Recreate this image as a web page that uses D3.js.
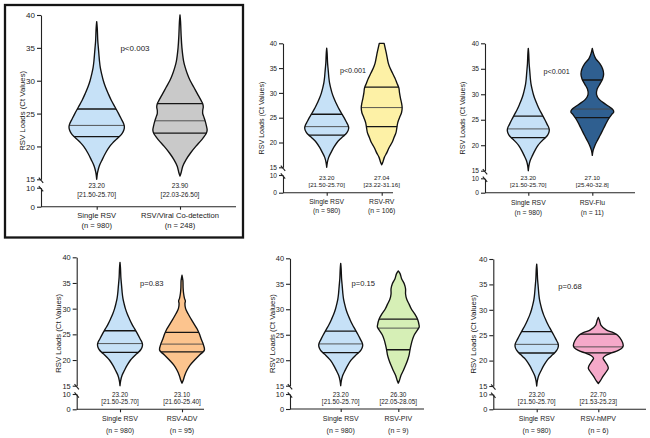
<!DOCTYPE html>
<html>
<head>
<meta charset="utf-8">
<script src="https://cdn.jsdelivr.net/npm/d3@7"></script>
<style>
  body { margin: 0; background: #fff; }
  svg text { font-family: "Liberation Sans", Arial, sans-serif; fill: #1a1a1a; }
</style>
</head>
<body>
<svg id="chart" width="650" height="438"></svg>
<script>
// ---- Data ----
// violin outlines: [Ct value, relative half width] (1 = widest part of Single RSV)
const singleRsvShape = [[39,0],[38,0.02],[36,0.04],[35,0.06],[34,0.08],[33,0.1],[32,0.13],[31,0.18],[30,0.24],[29,0.32],[28,0.42],[27,0.53],[26,0.66],[25,0.79],[24,0.91],[23.5,0.97],[23,1],[22.5,0.98],[22,0.92],[21.5,0.82],[21,0.69],[20.5,0.57],[20,0.47],[19,0.32],[18,0.2],[17,0.09],[16,0.03],[15,0]];
const coDetectShape = [[40,0],[39,0.02],[37,0.04],[35,0.07],[33,0.13],[32,0.19],[31,0.27],[30,0.37],[29,0.5],[28,0.63],[27,0.76],[26.5,0.82],[26,0.84],[25.5,0.82],[25,0.82],[24.5,0.86],[24,0.9],[23,0.96],[22.5,0.98],[22,0.95],[21,0.78],[20,0.57],[19,0.38],[18,0.22],[17,0.1],[16,0.04],[15.5,0]];
const rvShape = [[40,0.11],[38,0.21],[36,0.3],[35,0.38],[34,0.49],[33,0.6],[32,0.69],[31,0.78],[30,0.81],[29,0.85],[28,0.9],[27,0.93],[26,0.9],[25,0.81],[24,0.73],[23,0.69],[22,0.65],[21,0.56],[20,0.47],[19,0.34],[18,0.24],[17,0.12],[16,0.05],[15.5,0]];
const fluShape = [[39,0],[38,0.06],[37,0.16],[36,0.36],[35,0.49],[34,0.54],[33,0.49],[32,0.36],[31,0.23],[30,0.2],[29,0.33],[28,0.65],[27,0.98],[26.5,1.02],[26,0.92],[25,0.75],[24,0.62],[23,0.5],[22,0.38],[21,0.25],[20,0.13],[19,0.04],[18,0]];
const advShape = [[36.5,0],[35.5,0.04],[34,0.05],[33,0.07],[32,0.11],[31.5,0.15],[31,0.13],[30,0.16],[29,0.27],[28,0.4],[27,0.54],[26,0.68],[25,0.78],[24,0.86],[23,0.95],[22,1.0],[21.5,0.92],[21,0.78],[20,0.56],[19,0.36],[18,0.22],[17,0.12],[16,0.05],[15.5,0]];
const pivShape = [[37.5,0],[37,0.08],[36,0.15],[35,0.27],[34,0.33],[33,0.33],[32,0.38],[31,0.49],[30,0.6],[29,0.76],[28,0.88],[27,0.94],[26.5,0.95],[26,0.88],[25,0.73],[24,0.64],[23,0.58],[22,0.53],[21,0.49],[20,0.42],[19,0.33],[18,0.23],[17,0.12],[16,0.05],[15.5,0]];
const hmpvShape = [[28.5,0],[28,0.05],[27,0.12],[26,0.38],[25.5,0.69],[25,0.89],[24,1.07],[23,1.15],[22.5,1.1],[22,0.92],[21.5,0.61],[21,0.34],[20.5,0.22],[20,0.28],[19,0.43],[18.5,0.46],[18,0.4],[17,0.23],[16,0.09],[15.5,0]];

const singleName = "Single RSV";
const singleN = 980;
const singleStats = [21.5, 23.2, 25.7];           // Q1, median, Q3
const singleLabel = ["23.20", "[21.50-25.70]"];

const groupNames = ["RSV/Viral Co-detection", "RSV-RV", "RSV-Flu", "RSV-ADV", "RSV-PIV", "RSV-hMPV"];
const groupN = [248, 106, 11, 95, 9, 6];
const groupShapes = [coDetectShape, rvShape, fluShape, advShape, pivShape, hmpvShape];
const groupQ1 = [22.03, 23.22, 25.40, 21.60, 22.05, 21.53];
const groupMedian = [23.90, 27.04, 27.10, 23.10, 26.30, 22.70];
const groupQ3 = [26.50, 31.16, 32.8, 25.40, 28.05, 25.23];
const groupMedianText = ["23.90", "27.04", "27.10", "23.10", "26.30", "22.70"];
const groupIqrText = ["[22.03-26.50]", "[23.22-31.16]", "[25.40-32.8]", "[21.60-25.40]", "[22.05-28.05]", "[21.53-25.23]"];
const pValues = ["p<0.003", "p<0.001", "p<0.001", "p=0.83", "p=0.15", "p=0.68"];

const upperTicks = [15, 20, 25, 30, 35, 40];
const lowerTicks = [0, 10];
const yTitle = "RSV Loads (Ct Values)";

// ---- Styles / layout ----
const singleColor = "#c6e1f7";
const groupColors = ["#c9c9c9", "#fdf1a6", "#2f5f90", "#fcc48e", "#d6efb6", "#f5a9c9"];

const layouts = [
  { ax: 41,    xEnd: 236, y40: 15,    y15: 179.3, y10: 187.7, y0: 206.7, cats: [96.7, 180],   unit: 27.7, tickFs: 8,   catFs: 7.6, medFs: 6.6, pFs: 8,   labFs: 7.8, medY: [185, 194],     catY: [215.7, 225.7], pPos: [135, 48],    labX: 22 },
  { ax: 283,   xEnd: 393, y40: 43.3,  y15: 167.3, y10: 175,   y0: 192.7, cats: [326.7, 381.7], unit: 22,  tickFs: 6.6, catFs: 6.8, medFs: 6.2, pFs: 7.2, labFs: 7.1, medY: [177.3, 184],   catY: [201.7, 210.7], pPos: [353, 70],    labX: 261.7 },
  { ax: 485,   xEnd: 635, y40: 43.3,  y15: 170.7, y10: 178.3, y0: 192.7, cats: [528.3, 592.3], unit: 21,  tickFs: 6.6, catFs: 6.8, medFs: 6.2, pFs: 7.2, labFs: 7.1, medY: [177.3, 184.7], catY: [202.7, 212.3], pPos: [556.7, 71],  labX: 463 },
  { ax: 76.7,  xEnd: 204, y40: 257.3, y15: 385.7, y10: 394,   y0: 409.3, cats: [120, 182],     unit: 22.5, tickFs: 7.4, catFs: 7,  medFs: 6.4, pFs: 7.6, labFs: 7.7, medY: [394, 401],     catY: [418.3, 430.7], pPos: [151.7, 283.3], labX: 58.3 },
  { ax: 290,   xEnd: 424, y40: 258.3, y15: 385.7, y10: 394,   y0: 409,   cats: [340.7, 398.3], unit: 22,  tickFs: 7.4, catFs: 7,   medFs: 6.4, pFs: 7.6, labFs: 7.7, medY: [394, 401],     catY: [418.3, 430.7], pPos: [363.3, 283.3], labX: 272.7 },
  { ax: 493.3, xEnd: 646, y40: 259,   y15: 386,   y10: 394.3, y0: 409.3, cats: [536.7, 598.3], unit: 21.7, tickFs: 7.4, catFs: 7,  medFs: 6.4, pFs: 7.6, labFs: 7.7, medY: [394, 401],     catY: [418.3, 430.7], pPos: [570, 286.7],  labX: 473.3 }
];

const svg = d3.select("#chart");

// frame round the first (overall) panel
svg.append("rect")
  .attr("x", 5).attr("y", 5)
  .attr("width", 238).attr("height", 232.5)
  .attr("fill", "none")
  .attr("stroke", "#151515")
  .attr("stroke-width", 2.3);

function drawPanel(i) {
  const p = layouts[i];
  const g = svg.append("g");

  // y scale with a broken axis: 0-10 squeezed, 15-40 stretched
  const y = d3.scaleLinear().domain([0, 10, 15, 40]).range([p.y0, p.y10, p.y15, p.y40]);
  const yUpper = d3.scaleLinear().domain([15, 40]).range([p.y15, p.y40]);
  const yLower = d3.scaleLinear().domain([0, 10]).range([p.y0, p.y10]);
  const x = d3.scalePoint().domain([singleName, groupNames[i]]).range(p.cats);
  const w = d3.scaleLinear().domain([0, 1]).range([0, p.unit]);

  const violins = [
    { name: singleName, shape: singleRsvShape, stats: singleStats, color: singleColor,
      text: singleLabel, n: singleN },
    { name: groupNames[i], shape: groupShapes[i], stats: [groupQ1[i], groupMedian[i], groupQ3[i]],
      color: groupColors[i], text: [groupMedianText[i], groupIqrText[i]], n: groupN[i] }
  ];

  violins.forEach((v, k) => {
    const cx = x(v.name);
    const area = d3.area()
      .curve(d3.curveCatmullRom.alpha(0.5))
      .y(d => y(d[0]))
      .x0(d => cx - w(d[1]))
      .x1(d => cx + w(d[1]));
    const id = `clip-${i}-${k}`;
    g.append("clipPath").attr("id", id)
      .append("path").attr("d", area(v.shape));

    g.append("path").attr("d", area(v.shape)).attr("fill", v.color);

    // quartile + median lines, clipped to the violin body
    const lines = g.append("g").attr("clip-path", `url(#${id})`);
    v.stats.forEach((s, j) => {
      lines.append("line")
        .attr("x1", cx - p.unit * 2).attr("x2", cx + p.unit * 2)
        .attr("y1", y(s)).attr("y2", y(s))
        .attr("stroke", j === 1 ? "#454545" : "#151515")
        .attr("stroke-width", j === 1 ? 0.9 : 1.3);
    });

    g.append("path").attr("d", area(v.shape))
      .attr("fill", "none")
      .attr("stroke", "#111")
      .attr("stroke-width", 1.35)
      .attr("stroke-linejoin", "round");

    // median [IQR] under each violin
    g.append("text").text(v.text[0])
      .attr("x", cx).attr("y", p.medY[0])
      .attr("text-anchor", "middle").attr("dominant-baseline", "central")
      .style("font-size", p.medFs + "px");
    g.append("text").text(v.text[1])
      .attr("x", cx).attr("y", p.medY[1])
      .attr("text-anchor", "middle").attr("dominant-baseline", "central")
      .style("font-size", p.medFs + "px");

    // category labels
    g.append("text").text(v.name)
      .attr("x", cx).attr("y", p.catY[0])
      .attr("text-anchor", "middle").attr("dominant-baseline", "central")
      .style("font-size", p.catFs + "px");
    g.append("text").text(`(n = ${v.n})`)
      .attr("x", cx).attr("y", p.catY[1])
      .attr("text-anchor", "middle").attr("dominant-baseline", "central")
      .style("font-size", p.catFs + "px");
  });

  // y axes (upper and lower part of the break)
  const upperAxis = g.append("g")
    .attr("transform", `translate(${p.ax},0)`)
    .call(d3.axisLeft(yUpper).tickValues(upperTicks).tickSize(4).tickSizeOuter(0).tickPadding(2));
  const lowerAxis = g.append("g")
    .attr("transform", `translate(${p.ax},0)`)
    .call(d3.axisLeft(yLower).tickValues(lowerTicks).tickSize(4).tickSizeOuter(0).tickPadding(2));
  [upperAxis, lowerAxis].forEach(a => {
    a.selectAll("path, line").attr("stroke", "#222").attr("stroke-width", 1.1);
    a.selectAll("text").style("font-size", p.tickFs + "px").attr("fill", "#1a1a1a");
  });

  // break marks
  [p.y15 + 1, p.y10 + 1].forEach(yy => {
    g.append("line")
      .attr("x1", p.ax - 2.2).attr("x2", p.ax + 2.2)
      .attr("y1", yy - 2.6).attr("y2", yy + 2.6)
      .attr("stroke", "#222").attr("stroke-width", 1.1);
  });

  // x axis
  g.append("line")
    .attr("x1", p.ax).attr("x2", p.xEnd)
    .attr("y1", p.y0).attr("y2", p.y0)
    .attr("stroke", "#222").attr("stroke-width", 1.1);
  const xAxis = g.append("g")
    .attr("transform", `translate(0,${p.y0})`)
    .call(d3.axisBottom(x).tickSize(3).tickSizeOuter(0).tickFormat(""));
  xAxis.select(".domain").remove();
  xAxis.selectAll("line").attr("stroke", "#222").attr("stroke-width", 1.1);

  // y title
  g.append("text").text(yTitle)
    .attr("transform", `translate(${p.labX},${(p.y40 + p.y0) / 2}) rotate(-90)`)
    .attr("text-anchor", "middle").attr("dominant-baseline", "central")
    .style("font-size", p.labFs + "px");

  // p value
  g.append("text").text(pValues[i])
    .attr("x", p.pPos[0]).attr("y", p.pPos[1])
    .attr("text-anchor", "middle").attr("dominant-baseline", "central")
    .style("font-size", p.pFs + "px");
}

layouts.forEach((_, i) => drawPanel(i));
</script>
</body>
</html>
